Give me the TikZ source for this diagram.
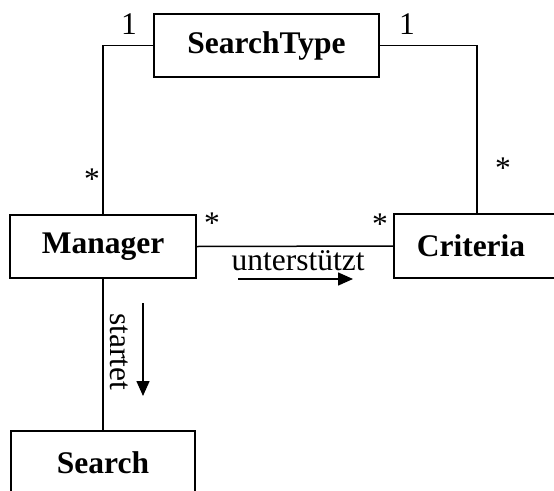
\documentclass[tikz,border=0pt]{standalone}
\usepackage{fontspec}
\setmainfont{Liberation Serif}
\usetikzlibrary{arrows.meta}
\tikzset{
  cls/.style={draw, line width=1.5pt, rectangle, inner sep=0pt, font=\fontsize{31.5}{36}\selectfont\bfseries},
  conn/.style={line width=1.5pt},
  mult/.style={inner sep=0pt, anchor=base, font=\fontsize{31.5}{36}\selectfont},
  lbl/.style={inner sep=0pt, anchor=base, font=\fontsize{31.5}{36}\selectfont},
  dirarrow/.style={line width=1.5pt, -{Triangle[length=15pt,width=13pt]}}
}
\begin{document}
\begin{tikzpicture}[x=1pt,y=-1pt]
\clip (0,0) rectangle (554,490);
\fill[white] (0,0) rectangle (554,490);
\node[cls, minimum width=225pt, minimum height=63pt] (st) at (266.5,45.5) {SearchType};
\node[cls, minimum width=186pt, minimum height=63pt] (man) at (103,246.5) {Manager};
\node[cls, minimum width=166pt, minimum height=64pt] (crit) at (477,246) {\hspace*{-12pt}Criteria};
\node[cls, minimum width=184pt, minimum height=63pt] (srch) at (103,462.5) {Search};
\draw[conn] (st.west) -| (man.north);
\draw[conn] (st.east) -| (crit.north);
\draw[conn] (man.east) -- (crit.west);
\draw[conn] (man.south) -- (srch.north);
\node[mult] (m1) at (129,34) {1};
\node[mult] (m2) at (407,34) {1};
\node[mult] (m3) at (92,189) {*};
\node[mult] (m4) at (503,178) {*};
\node[mult] (m5) at (212,233) {*};
\node[mult] (m6) at (380,234) {*};
\node[lbl] (unt) at (298,270) {unterstützt};
\coordinate (ua) at (238,279);
\coordinate (ub) at (353,279);
\draw[dirarrow] (ua) -- (ub);
\node[lbl, rotate=-90] (sta) at (110,351.5) {startet};
\coordinate (sa) at (143,303);
\coordinate (sb) at (143,396);
\draw[dirarrow] (sa) -- (sb);
\end{tikzpicture}
\end{document}
